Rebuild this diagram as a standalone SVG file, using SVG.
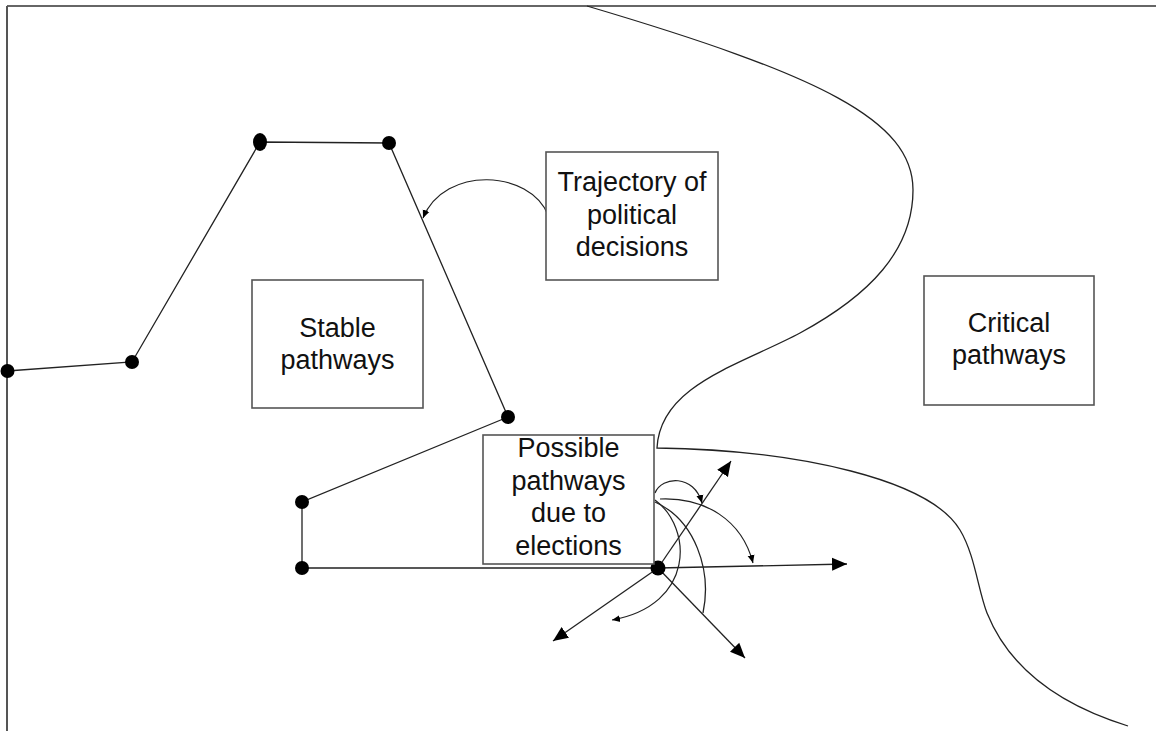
<svg xmlns="http://www.w3.org/2000/svg" width="1156" height="731" viewBox="0 0 1156 731">
<style>
.box{fill:#fff;stroke:#555;stroke-width:1.6}
.lbl{font-family:"Liberation Sans",Arial,sans-serif;font-size:27px;fill:#111;text-anchor:middle}
.ln{fill:none;stroke:#222;stroke-width:1.3}
.arr{fill:none;stroke:#222;stroke-width:1.3;marker-end:url(#big)}
.carr{fill:none;stroke:#222;stroke-width:1.2;marker-end:url(#small)}
.dot{fill:#000}
</style>
<defs>
<marker id="big" markerUnits="userSpaceOnUse" markerWidth="16" markerHeight="14" refX="15" refY="6.5" orient="auto" viewBox="0 0 16 13">
<path d="M0,0 L15,6.5 L0,13 z" fill="#000"/>
</marker>
<marker id="small" markerUnits="userSpaceOnUse" markerWidth="9" markerHeight="8" refX="8" refY="3.5" orient="auto" viewBox="0 0 9 7">
<path d="M0,0 L8,3.5 L0,7 z" fill="#000"/>
</marker>
</defs>
<rect width="1156" height="731" fill="#fff"/>
<g id="frame">
<line x1="7" y1="6" x2="1156" y2="6" stroke="#666" stroke-width="2"/>
<line x1="7" y1="6" x2="7" y2="731" stroke="#555" stroke-width="2"/>
</g>
<g id="boundary">
<path class="ln" d="M587,6 C820,75 913,120 913,190 C913,250 870,295 800,333 C740,365 660,385 657,448 C800,450 930,480 960,530 C975,555 978,590 987,613 C1010,670 1060,705 1128,726"/>
</g>
<g id="connectors">
<polyline class="ln" points="7,371 132,362 260,142 389,143 508,417 302,502 302,568 658,568"/>
<line class="arr" x1="658" y1="568" x2="847" y2="564"/>
<line class="arr" x1="658" y1="568" x2="731" y2="461"/>
<line class="arr" x1="658" y1="568" x2="553" y2="641"/>
<line class="arr" x1="658" y1="568" x2="745" y2="658"/>
<path class="carr" d="M548,215 C530,170 445,165 423,218"/>
<path class="carr" d="M655,493 C662,476 694,474 702,503"/>
<path class="carr" d="M660,499 C705,497 742,520 753,563"/>
<path class="carr" d="M655,500 C693,528 695,605 612,620"/>
<path class="ln" d="M655,502 C695,520 712,570 703,613"/>
</g>
<g id="dots">
<circle class="dot" cx="7.5" cy="371" r="7"/>
<circle class="dot" cx="132" cy="362" r="7"/>
<ellipse class="dot" cx="260" cy="142" rx="7" ry="9"/>
<circle class="dot" cx="389" cy="143" r="7"/>
<circle class="dot" cx="508" cy="417" r="7"/>
<circle class="dot" cx="302" cy="502" r="7"/>
<circle class="dot" cx="302" cy="568" r="7"/>
<circle class="dot" cx="658" cy="568" r="7.5"/>
</g>
<g id="node-trajectory">
<rect class="box" x="546" y="152" width="172" height="128"/>
<text class="lbl" x="632" y="191">Trajectory of</text>
<text class="lbl" x="632" y="223.5">political</text>
<text class="lbl" x="632" y="256">decisions</text>
</g>
<g id="node-stable">
<rect class="box" x="252" y="280" width="171" height="128"/>
<text class="lbl" x="337.5" y="337">Stable</text>
<text class="lbl" x="337.5" y="369">pathways</text>
</g>
<g id="node-critical">
<rect class="box" x="924" y="276" width="170" height="129"/>
<text class="lbl" x="1009" y="332">Critical</text>
<text class="lbl" x="1009" y="364">pathways</text>
</g>
<g id="node-possible">
<rect class="box" x="483" y="435" width="171" height="129"/>
<text class="lbl" x="568.5" y="457">Possible</text>
<text class="lbl" x="568.5" y="490">pathways</text>
<text class="lbl" x="568.5" y="522">due to</text>
<text class="lbl" x="568.5" y="555">elections</text>
</g>
</svg>
